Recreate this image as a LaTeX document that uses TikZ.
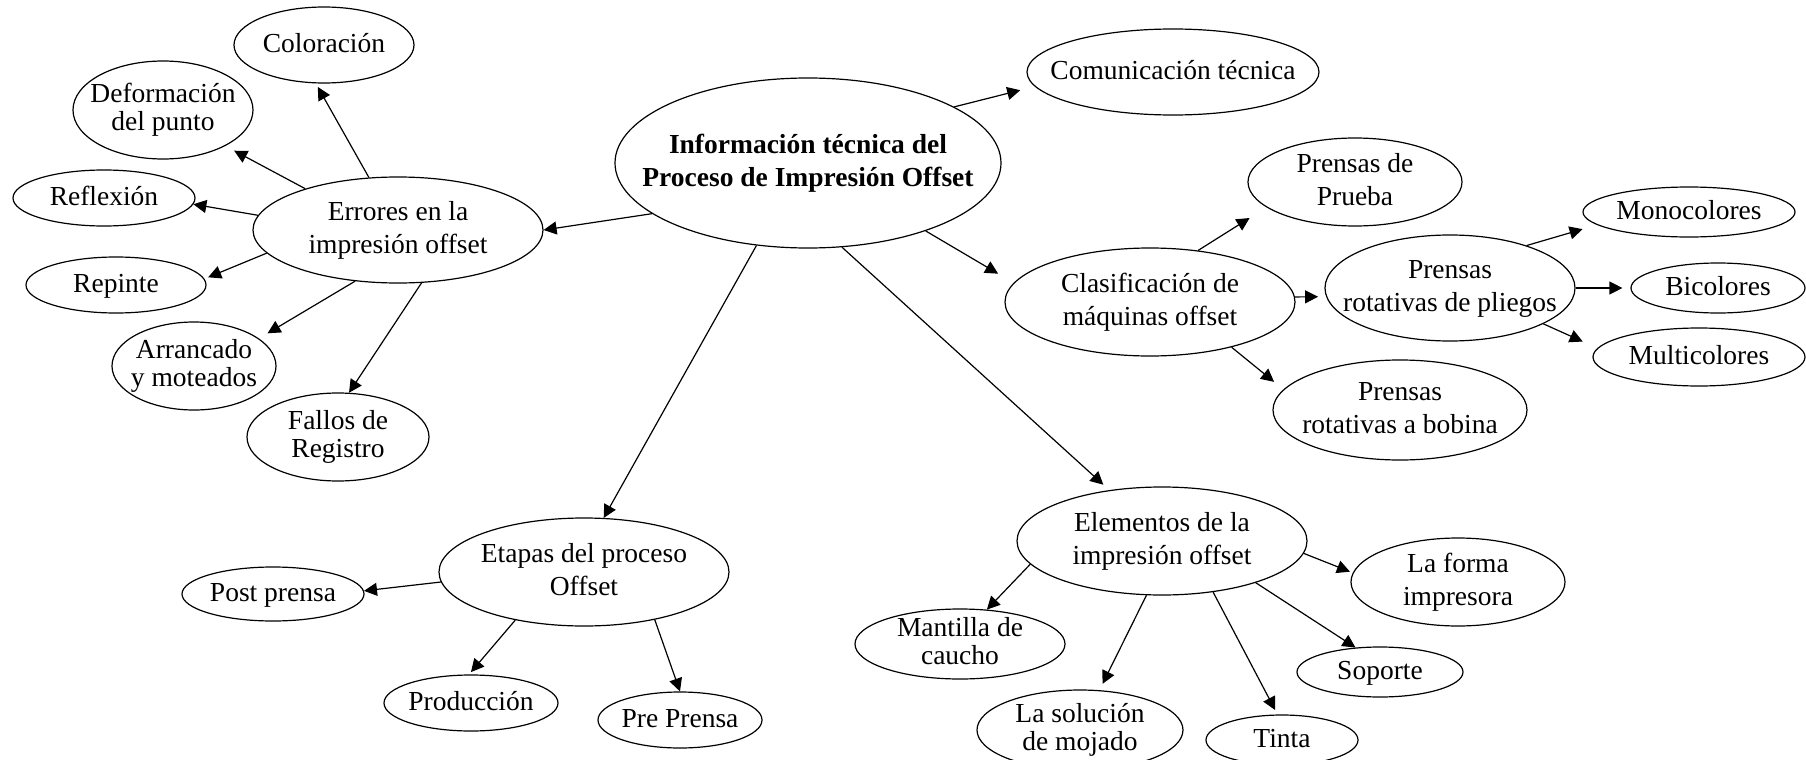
\documentclass[tikz,border=0pt]{standalone}
\usepackage{fontspec}
\setmainfont{Liberation Serif}
\usetikzlibrary{shapes.geometric}
\usetikzlibrary{arrows.meta}

\newcommand{\etiq}[2][1]{\makebox[0pt]{\smash{\raisebox{-4pt}{\renewcommand{\arraystretch}{#1}\begin{tabular}{@{}c@{}}#2\end{tabular}}}}}

\begin{document}
\begin{tikzpicture}[
    x=0.5pt,
    y=-0.5pt,
    every node/.style={font=\fontsize{13.75}{16.5}\selectfont},
    burbuja/.style 2 args={
      ellipse,
      draw,
      line width=0.6pt,
      inner sep=0pt,
      minimum width=#1pt,
      minimum height=#2pt
    },
    >={Triangle[length=6.5pt,width=6.5pt]},
    ]

    \useasboundingbox (0,0) rectangle (1806,760);

    % centro
    \node[burbuja={193}{85}] (info) at (808,163) {\etiq{\bfseries Información técnica del\\\bfseries Proceso de Impresión Offset}};
    \node[burbuja={146}{43}] (com) at (1173,72) {\etiq{Comunicación técnica}};

    % errores
    \node[burbuja={145}{53}] (err) at (398,230) {\etiq{Errores en la\\impresión offset}};
    \node[burbuja={90}{38}] (col) at (324,45) {\etiq{Coloración}};
    \node[burbuja={90}{49}] (deform) at (163,110) {\etiq[0.85]{Deformación\\del punto}};
    \node[burbuja={91}{28}] (refl) at (104,198) {\etiq{Reflexión}};
    \node[burbuja={90}{28}] (rep) at (116,285) {\etiq{Repinte}};
    \node[burbuja={82}{44}] (arr) at (194,366) {\etiq[0.85]{Arrancado\\y moteados}};
    \node[burbuja={91}{44}] (fal) at (338,437) {\etiq[0.85]{Fallos de\\Registro}};

    % maquinas
    \node[burbuja={145}{54}] (clas) at (1150,302) {\etiq{Clasificación de\\máquinas offset}};
    \node[burbuja={107}{44}] (pru) at (1355,182) {\etiq{Prensas de\\Prueba}};
    \node[burbuja={125}{53}] (pli) at (1450,288) {\etiq{Prensas\\rotativas de pliegos}};
    \node[burbuja={127}{50}] (bob) at (1400,410) {\etiq{Prensas\\rotativas a bobina}};
    \node[burbuja={106}{25}] (mono) at (1689,212) {\etiq{Monocolores}};
    \node[burbuja={87}{25}] (bi) at (1718,288) {\etiq{Bicolores}};
    \node[burbuja={106}{29}] (multi) at (1699,357) {\etiq{Multicolores}};

    % etapas
    \node[burbuja={145}{54}] (eta) at (584,572) {\etiq{Etapas del proceso\\Offset}};
    \node[burbuja={91}{27}] (post) at (273,594) {\etiq{Post prensa}};
    \node[burbuja={87}{28}] (prod) at (471,703) {\etiq{Producción}};
    \node[burbuja={82}{28}] (prep) at (680,720) {\etiq{Pre Prensa}};

    % elementos
    \node[burbuja={145}{54}] (elem) at (1162,541) {\etiq{Elementos de la\\impresión offset}};
    \node[burbuja={105}{35}] (man) at (960,644) {\etiq[0.85]{Mantilla de\\caucho}};
    \node[burbuja={103}{40}] (sol) at (1080,730) {\etiq[0.85]{La solución\\de mojado}};
    \node[burbuja={76}{25}] (tin) at (1282,740) {\etiq{Tinta}};
    \node[burbuja={83}{25}] (sop) at (1380,672) {\etiq{Soporte}};
    \node[burbuja={107}{44}] (forma) at (1458,582) {\etiq{La forma\\impresora}};

    \path[->, line width=0.6pt]
    (info.21)  edge[shorten >=7.5pt] (com.186)
    (info.198) edge (err.0)
    (info.330) edge[shorten >=9pt] (clas.172)
    (info.238) edge (eta.70)
    (info.292) edge[shorten >=4pt] (elem.136)
    (err.119)  edge[shorten >=2pt] (col.258)
    (err.156)  edge[shorten >=5pt] (deform.330)
    (err.174)  edge (refl.356)
    (err.190)  edge[shorten >=2pt] (rep.4)
    (err.230)  edge[shorten >=5pt] (arr.23)
    (err.294)  edge (fal.76)
    (clas.47)  edge[shorten >=10pt] (pru.196)
    (clas.2)   edge[shorten >=4pt] (pli.184)
    (clas.331) edge[shorten >=6pt] (bob.170)
    (pli.29)   edge[shorten >=7.5pt] (mono.188)
    (pli.0)    edge[shorten >=4pt] (bi.180)
    (pli.339)  edge[shorten >=8pt] (multi.175)
    (eta.184)  edge (post.2)
    (eta.215)  edge[shorten >=1.5pt] (prod.94)
    (eta.326)  edge (prep.90)
    (elem.190) edge (man.52)
    (elem.254) edge[shorten >=3.5pt] (sol.64)
    (elem.315) edge[shorten >=2.5pt] (tin.100)
    (elem.336) edge (sop.135)
    (elem.355) edge[shorten >=1.5pt] (forma.175)
    ;
  \end{tikzpicture}
\end{document}
